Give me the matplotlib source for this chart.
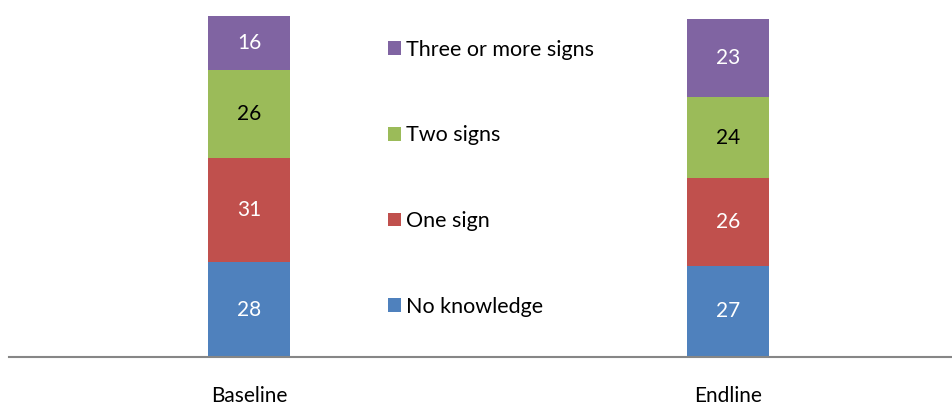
import matplotlib
matplotlib.use("Agg")
import matplotlib.pyplot as plt
from matplotlib.patches import Patch

plt.rcParams['font.family'] = ['Lato', 'DejaVu Sans']

periods = ["Baseline", "Endline"]
categories = ["No knowledge", "One sign", "Two signs", "Three or more signs"]
values = {
    "No knowledge": [28, 27],
    "One sign": [31, 26],
    "Two signs": [26, 24],
    "Three or more signs": [16, 23],
}
colors = {
    "No knowledge": "#4F81BD",
    "One sign": "#C0504D",
    "Two signs": "#9BBB59",
    "Three or more signs": "#8064A2",
}
label_colors = {
    "No knowledge": "white",
    "One sign": "white",
    "Two signs": "black",
    "Three or more signs": "white",
}

FS = 15

W, H = 953, 408
fig = plt.figure(figsize=(W / 100, H / 100), dpi=100)
ax_bottom = (H - 357) / H
ax = fig.add_axes([9 / W, ax_bottom, (953 - 9) / W, 1 - ax_bottom])

x = [0, 1]
bar_w = 82 / 479
bottoms = [0, 0]
for cat in categories:
    vals = values[cat]
    ax.bar(x, vals, bar_w, bottom=bottoms, color=colors[cat],
           edgecolor="none", zorder=2)
    for xi, v, b in zip(x, vals, bottoms):
        ax.text(xi, b + v / 2, str(v), ha="center", va="center",
                fontsize=FS, color=label_colors[cat], zorder=3)
    bottoms = [b + v for b, v in zip(bottoms, vals)]

ax.set_xlim(-240 / 479, 1 + 225 / 479)
ax.set_ylim(0, 357 / 3.376)

for s in ["top", "right", "left"]:
    ax.spines[s].set_visible(False)
ax.spines["bottom"].set_color("#868686")
ax.spines["bottom"].set_linewidth(1.5)
ax.set_yticks([])
ax.set_xticks(x)
ax.set_xticklabels(periods, fontsize=FS)
ax.tick_params(axis="x", length=0, pad=21)

handles = [Patch(facecolor=colors[c], edgecolor="none", label=c)
           for c in reversed(categories)]
fig.legend(handles=handles, loc="upper left",
           bbox_to_anchor=(377 / W, 1 - 29 / H), frameon=False,
           fontsize=15.5, handlelength=0.62, handleheight=0.62,
           handletextpad=0.25, labelspacing=3.05, borderpad=0)

fig.savefig("out.png", dpi=100)
